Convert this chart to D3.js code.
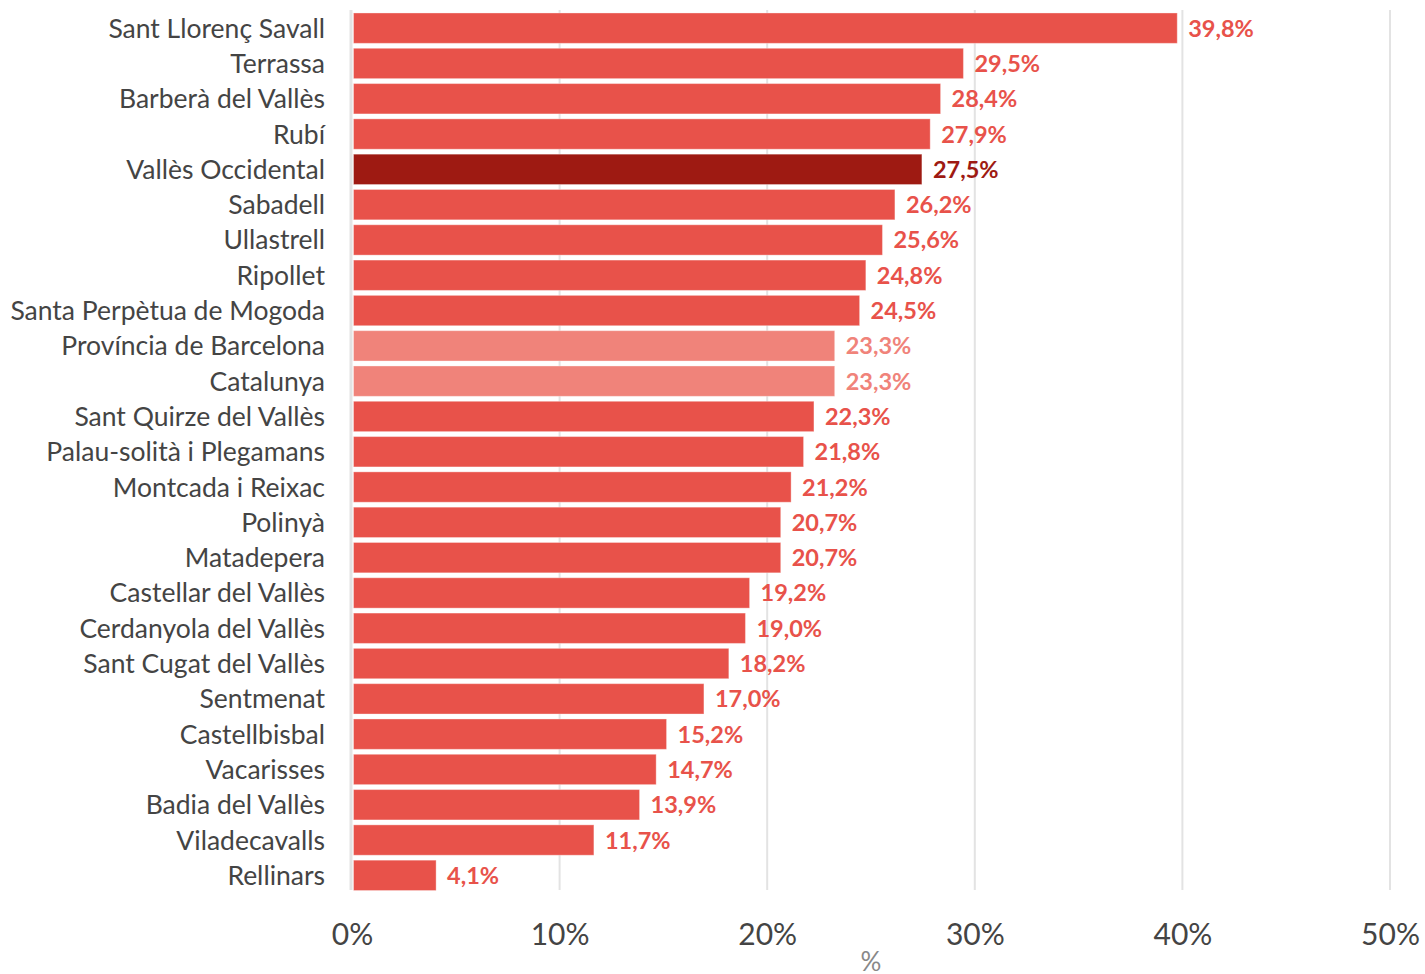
<!DOCTYPE html>
<html><head><meta charset="utf-8">
<script src="https://cdn.jsdelivr.net/npm/d3@7"></script>
<style>
body{margin:0;background:#fff;}
svg{display:block;font-family:Lato,"Open Sans",sans-serif;}
</style></head>
<body>
<svg id="chart" width="1425" height="974"></svg>
<script>
const categories = ["Sant Llorenç Savall","Terrassa","Barberà del Vallès","Rubí","Vallès Occidental","Sabadell","Ullastrell","Ripollet","Santa Perpètua de Mogoda","Província de Barcelona","Catalunya","Sant Quirze del Vallès","Palau-solità i Plegamans","Montcada i Reixac","Polinyà","Matadepera","Castellar del Vallès","Cerdanyola del Vallès","Sant Cugat del Vallès","Sentmenat","Castellbisbal","Vacarisses","Badia del Vallès","Viladecavalls","Rellinars"];
const values = [39.8,29.5,28.4,27.9,27.5,26.2,25.6,24.8,24.5,23.3,23.3,22.3,21.8,21.2,20.7,20.7,19.2,19.0,18.2,17.0,15.2,14.7,13.9,11.7,4.1];
const groups = ["m","m","m","m","comarca","m","m","m","m","ref","ref","m","m","m","m","m","m","m","m","m","m","m","m","m","m"];
const xTicks = [0,10,20,30,40,50];
const axisTitle = "%";

const fillColor = {m:"#e8524a", comarca:"#9e1a12", ref:"#f0837a"};
const svg = d3.select("#chart");
const x = d3.scaleLinear().domain([0,50]).range([352,1390]);
const y = d3.scaleBand().domain(categories).range([10.5,893]).paddingInner(0.14).paddingOuter(0.07);
const data = categories.map((c,i)=>({c, v:values[i], g:groups[i]}));

// gridlines
svg.append("g").selectAll("line").data(xTicks.slice(1)).join("line")
  .attr("x1",d=>x(d)).attr("x2",d=>x(d)).attr("y1",10).attr("y2",890)
  .attr("stroke","#e3e3e3").attr("stroke-width",2);
// zero line
svg.append("line").attr("x1",x(0)-1).attr("x2",x(0)-1).attr("y1",10).attr("y2",890)
  .attr("stroke","#e3e3e3").attr("stroke-width",3);

// bars
svg.append("g").selectAll("rect").data(data).join("rect")
  .attr("x",x(0)+1.5).attr("y",d=>y(d.c))
  .attr("width",d=>x(d.v)-x(0)-2.5).attr("height",y.bandwidth())
  .attr("fill",d=>fillColor[d.g])
  .attr("stroke","#fff").attr("stroke-opacity",0.35).attr("stroke-width",1);

// value labels
svg.append("g").selectAll("text").data(data).join("text")
  .attr("x",d=>x(d.v)+10).attr("y",d=>y(d.c)+y.bandwidth()/2)
  .attr("dy","0.36em").attr("font-size",23.5).attr("font-weight",700)
  .attr("fill",d=>fillColor[d.g])
  .text(d=>d.v.toFixed(1).replace(".",",")+"%");

// category labels
svg.append("g").selectAll("text").data(data).join("text")
  .attr("x",325).attr("y",d=>y(d.c)+y.bandwidth()/2)
  .attr("dy","0.36em").attr("text-anchor","end").attr("font-size",26.5)
  .attr("fill","#444").text(d=>d.c);

// x axis
const xAxis = d3.axisBottom(x).tickValues(xTicks).tickSize(0).tickPadding(0).tickFormat(d=>d+"%");
const gx = svg.append("g").attr("transform","translate(0,934)").call(xAxis);
gx.select(".domain").remove();
gx.selectAll("text").attr("font-size",30).attr("fill","#444").attr("dy","0.36em")
  .attr("font-family","Lato,'Open Sans',sans-serif");

svg.append("text").attr("x",871).attr("y",962).attr("dy","0.36em").attr("text-anchor","middle")
  .attr("font-size",26).attr("fill","#888").text(axisTitle);
</script>
</body></html>
